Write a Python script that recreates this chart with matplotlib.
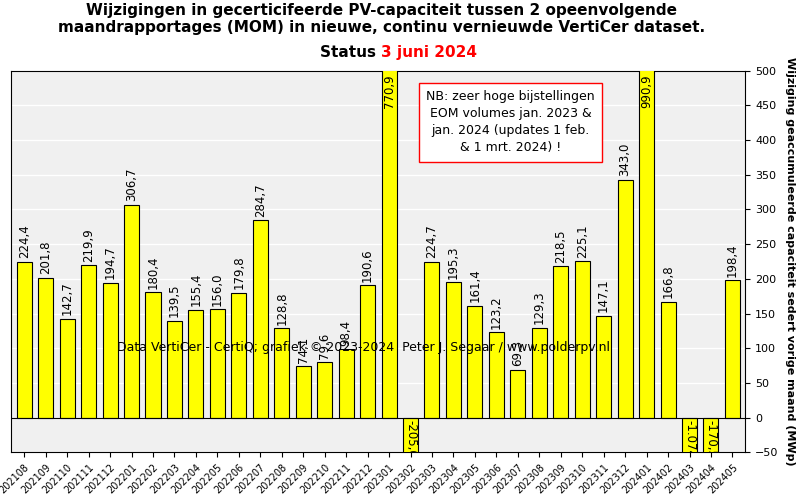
import matplotlib
matplotlib.use("Agg")
import matplotlib.pyplot as plt

cats = ["202108","202109","202110","202111","202112","202201","202202","202203","202204","202205","202206","202207","202208","202209","202210","202211","202212","202301","202302","202303","202304","202305","202306","202307","202308","202309","202310","202311","202312","202401","202402","202403","202404","202405"]
vals = [224.4,201.8,142.7,219.9,194.7,306.7,180.4,139.5,155.4,156.0,179.8,284.7,128.8,74.1,79.6,98.4,190.6,770.9,-205.0,224.7,195.3,161.4,123.2,69.3,129.3,218.5,225.1,147.1,343.0,990.9,166.8,-1074.7,-170.5,198.4]

def fmt(v):
    s = f"{abs(v):,.1f}".replace(",", "X").replace(".", ",").replace("X", ".")
    return ("-" if v < 0 else "") + s

fig = plt.figure(figsize=(8.11, 5.01), dpi=100)
fig.patch.set_facecolor("white")
ax = fig.add_axes([0.014, 0.097, 0.905, 0.762])
ax.set_facecolor("#f0f0f0")
ymin, ymax = -50, 500
x = range(len(cats))
ax.bar(x, vals, width=0.7, color="#ffff00", edgecolor="black", linewidth=0.8, zorder=3)
ax.set_ylim(ymin, ymax)
ax.set_xlim(-0.6, len(cats) - 0.4)
ax.grid(axis="y", color="white", linewidth=1, zorder=0)
ax.axhline(0, color="black", linewidth=0.8, zorder=4)
for i, v in enumerate(vals):
    if v > ymax:
        ax.text(i, ymax - 5, fmt(v), rotation=90, ha="center", va="top", fontsize=8.5, zorder=5)
    elif v < 0:
        ax.text(i, -3, fmt(v), rotation=-90, ha="center", va="top", fontsize=8.5, zorder=5, clip_on=True)
    else:
        ax.text(i, v + 5, fmt(v), rotation=90, ha="center", va="bottom", fontsize=8.5, zorder=5)
ax.yaxis.tick_right()
ax.yaxis.set_label_position("right")
ax.set_yticks(range(-50, 501, 50))
ax.tick_params(axis="y", labelsize=8)
ax.set_xticks(list(x))
ax.set_xticklabels(cats, rotation=45, ha="right", fontsize=7, rotation_mode="anchor")
ax.set_ylabel("Wijziging geaccumuleerde capaciteit sedert vorige maand (MWp)", fontsize=8, fontweight="bold", rotation=270, labelpad=12)
ax.text(0.48, 0.265, "Data VertiCer - CertiQ; grafiek © 2023-2024  Peter J. Segaar / www.polderpv.nl", transform=ax.transAxes, ha="center", fontsize=9, zorder=6)
ax.text(0.68, 0.865, "NB: zeer hoge bijstellingen\nEOM volumes jan. 2023 &\njan. 2024 (updates 1 feb.\n& 1 mrt. 2024) !", transform=ax.transAxes, ha="center", va="center", fontsize=9, zorder=6, linespacing=1.4,
        bbox=dict(boxstyle="square,pad=0.6", facecolor="white", edgecolor="red", linewidth=1))
fig.text(0.47, 0.962, "Wijzigingen in gecerticifeerde PV-capaciteit tussen 2 opeenvolgende\nmaandrapportages (MOM) in nieuwe, continu vernieuwde VertiCer dataset.", ha="center", va="center", fontsize=11, fontweight="bold")
fig.text(0.47, 0.895, "Status ", ha="right", va="center", fontsize=11, fontweight="bold")
fig.text(0.47, 0.895, "3 juni 2024", ha="left", va="center", fontsize=11, fontweight="bold", color="red")
fig.savefig("out.png", dpi=100)
